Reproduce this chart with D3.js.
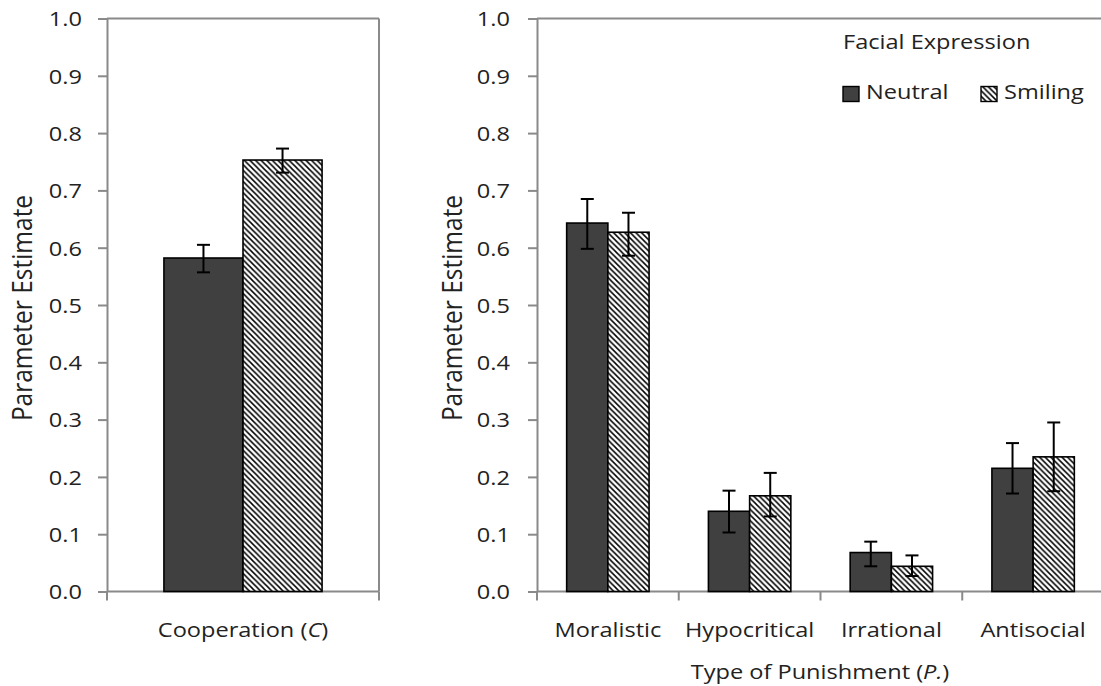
<!DOCTYPE html>
<html>
<head>
<meta charset="utf-8">
<script src="https://cdn.jsdelivr.net/npm/d3@7"></script>
<style>
  html, body { margin: 0; padding: 0; background: #fff; }
  svg { display: block; }
  text { font-family: "Open Sans", sans-serif; fill: #222; }
</style>
</head>
<body>
<svg id="chart" width="1101" height="686"></svg>
<script>
// ---------- data ----------
const series = ["Neutral", "Smiling"];
const yTicks = [0, 0.1, 0.2, 0.3, 0.4, 0.5, 0.6, 0.7, 0.8, 0.9, 1.0];

const leftCategories = ["Cooperation (C)"];
const leftNeutral = [0.582];
const leftSmiling = [0.753];
const leftNeutralLow = [0.557];
const leftNeutralHigh = [0.605];
const leftSmilingLow = [0.731];
const leftSmilingHigh = [0.773];

const rightCategories = ["Moralistic", "Hypocritical", "Irrational", "Antisocial"];
const rightNeutral = [0.643, 0.140, 0.068, 0.215];
const rightSmiling = [0.627, 0.167, 0.044, 0.235];
const rightNeutralLow = [0.598, 0.103, 0.044, 0.171];
const rightNeutralHigh = [0.685, 0.176, 0.087, 0.259];
const rightSmilingLow = [0.586, 0.131, 0.027, 0.175];
const rightSmilingHigh = [0.661, 0.207, 0.063, 0.295];

const yTitle = "Parameter Estimate";
const rightXTitle = "Type of Punishment (P.)";
const legendTitle = "Facial Expression";

// ---------- setup ----------
const svg = d3.select("#chart");
const AXIS = "#8a8a8a";
const FS = 20.5, SX = 1.15;

const defs = svg.append("defs");
const pat = defs.append("pattern").attr("id", "hatch")
  .attr("patternUnits", "userSpaceOnUse").attr("width", 5.6).attr("height", 5.6);
pat.append("rect").attr("width", 5.6).attr("height", 5.6).attr("fill", "#fff");
pat.append("path").attr("d", "M-1,-1L6.6,6.6M-1,4.6L1,6.6M4.6,-1L6.6,1")
  .attr("stroke", "#000").attr("stroke-width", 1.5);

const fills = { Neutral: "#404040", Smiling: "url(#hatch)" };

const y = d3.scaleLinear().domain([0, 1]).range([591.5, 18.5]);

function italicParts(sel, label) {
  const m = label.match(/^(.*\()(.*)(\).*)$/);
  if (!m) { sel.text(label); return; }
  sel.append("tspan").text(m[1]);
  sel.append("tspan").attr("font-style", "italic").text(m[2]);
  sel.append("tspan").text(m[3]);
}

function hText(g, x, yy, anchor, label, italic) {
  const t = g.append("text")
    .attr("transform", `translate(${x},${yy}) scale(${SX},1)`)
    .attr("text-anchor", anchor)
    .attr("font-size", FS);
  if (italic) italicParts(t, label); else t.text(label);
  return t;
}

function panel(opts) {
  const g = svg.append("g");
  const x0 = d3.scaleBand().domain(opts.categories).range([opts.left, opts.right]);
  const x1 = d3.scaleBand().domain(series).range([0, x0.bandwidth()])
    .paddingInner(0).paddingOuter(0.72);

  // frame (top / right)
  g.append("line").attr("x1", opts.left).attr("x2", opts.right)
    .attr("y1", y(1)).attr("y2", y(1)).attr("stroke", AXIS).attr("stroke-width", 2);
  g.append("line").attr("x1", opts.right).attr("x2", opts.right)
    .attr("y1", y(1)).attr("y2", y(0)).attr("stroke", AXIS).attr("stroke-width", 2);

  // y axis
  const ya = g.append("g").attr("transform", `translate(${opts.left},0)`)
    .call(d3.axisLeft(y).tickValues(yTicks).tickFormat(d3.format(".1f"))
      .tickSize(9).tickSizeOuter(0));
  ya.select(".domain").attr("stroke", AXIS).attr("stroke-width", 2);
  ya.selectAll(".tick line").attr("stroke", AXIS).attr("stroke-width", 2);
  ya.selectAll(".tick text")
    .attr("font-family", "Open Sans").attr("font-size", FS).attr("fill", "#222")
    .attr("x", -opts.labelGap / SX).attr("dy", "0.36em")
    .attr("transform", `scale(${SX},1)`);

  // x axis baseline and boundary ticks
  g.append("line").attr("x1", opts.left).attr("x2", opts.right)
    .attr("y1", y(0)).attr("y2", y(0)).attr("stroke", AXIS).attr("stroke-width", 2);
  const bounds = opts.categories.map(c => x0(c)).concat([x0(opts.categories[opts.categories.length - 1]) + x0.bandwidth()]);
  g.selectAll(".bt").data(bounds).join("line")
    .attr("x1", d => d).attr("x2", d => d)
    .attr("y1", y(0)).attr("y2", y(0) + 9)
    .attr("stroke", AXIS).attr("stroke-width", 2);

  // bars
  const rows = opts.categories.map((c, i) => series.map(s => ({
    cat: c, s,
    v: opts.values[s][i], lo: opts.lows[s][i], hi: opts.highs[s][i]
  }))).flat();

  g.selectAll(".bar").data(rows).join("rect")
    .attr("x", d => x0(d.cat) + x1(d.s))
    .attr("y", d => y(d.v))
    .attr("width", x1.bandwidth())
    .attr("height", d => y(0) - y(d.v))
    .attr("fill", d => fills[d.s])
    .attr("stroke", "#000").attr("stroke-width", 1.6);

  // error bars
  const eb = g.selectAll(".eb").data(rows).join("g")
    .attr("transform", d => `translate(${x0(d.cat) + x1(d.s) + x1.bandwidth() / 2},0)`);
  eb.append("line").attr("y1", d => y(d.lo)).attr("y2", d => y(d.hi))
    .attr("stroke", "#000").attr("stroke-width", 2);
  eb.append("line").attr("x1", -6.5).attr("x2", 6.5)
    .attr("y1", d => y(d.hi)).attr("y2", d => y(d.hi))
    .attr("stroke", "#000").attr("stroke-width", 2);
  eb.append("line").attr("x1", -6.5).attr("x2", 6.5)
    .attr("y1", d => y(d.lo)).attr("y2", d => y(d.lo))
    .attr("stroke", "#000").attr("stroke-width", 2);

  // category labels
  opts.categories.forEach(c => {
    hText(g, x0(c) + x0.bandwidth() / 2, 637, "middle", c, true);
  });

  // y title
  g.append("text")
    .attr("transform", `translate(${opts.yTitleX},308) rotate(-90) scale(1,1.1)`)
    .attr("text-anchor", "middle").attr("font-size", 24.5)
    .text(yTitle);
  return { g, x0 };
}

panel({
  categories: leftCategories, left: 107, right: 379, labelGap: 25, yTitleX: 32,
  values: { Neutral: leftNeutral, Smiling: leftSmiling },
  lows: { Neutral: leftNeutralLow, Smiling: leftSmilingLow },
  highs: { Neutral: leftNeutralHigh, Smiling: leftSmilingHigh }
});

const rp = panel({
  categories: rightCategories, left: 537, right: 1104, labelGap: 27, yTitleX: 462,
  values: { Neutral: rightNeutral, Smiling: rightSmiling },
  lows: { Neutral: rightNeutralLow, Smiling: rightSmilingLow },
  highs: { Neutral: rightNeutralHigh, Smiling: rightSmilingHigh }
});

// x title for right panel
hText(svg, 820, 679, "middle", rightXTitle, true);

// legend
const lg = svg.append("g");
hText(lg, 843, 49, "start", legendTitle, false);
const legendX = { Neutral: 843, Smiling: 981 };
series.forEach(s => {
  lg.append("rect").attr("x", legendX[s]).attr("y", 86.5).attr("width", 16).attr("height", 15)
    .attr("fill", fills[s]).attr("stroke", "#000").attr("stroke-width", 1.4);
  hText(lg, legendX[s] + 23, 98.5, "start", s, false);
});
</script>
</body>
</html>
